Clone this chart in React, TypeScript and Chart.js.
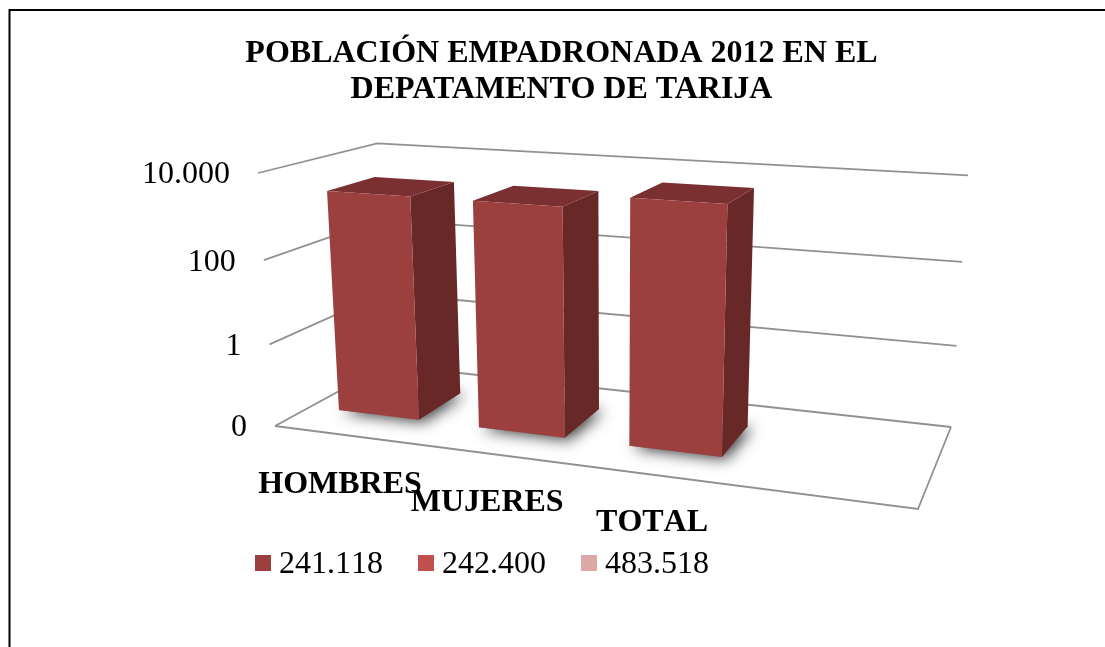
import React, { useEffect, useRef } from "react";
import { Chart, registerables } from "chart.js";

Chart.register(...registerables);

const TITLE_LINES = ["POBLACIÓN EMPADRONADA 2012 EN EL", "DEPATAMENTO DE TARIJA"];
const CATEGORIES = ["HOMBRES", "MUJERES", "TOTAL", ""];
const BAR_VALUES = [2500, 2500, 4900, null];
const LEGEND_LABELS = ["241.118", "242.400", "483.518"];
const LEGEND_COLORS = ["#9C403F", "#C0504D", "#DBA9A8"];
const TICK_VALUES = [0.01, 1, 100, 10000];

const FONT = "'Liberation Serif'";
const GRID = "#919191";
const FRONT = "#9C403F";
const SIDE = "#692828";
const TOP = "#7A3030";

// perspective box: floor corners front-left, front-right, back-right, back-left,
// plus the two roof corners that fix the vertical axis of the projection
type P = [number, number];
const FLOOR_QUAD: P[] = [[275, 426], [918, 509], [951, 427], [387, 365]];
const ROOF_FRONT_LEFT: P = [258, 173];
const ROOF_BACK_RIGHT_X = 968;
const DEPTH_FRONT = 0.29;
const DEPTH_BACK = 0.705;
const LABEL_NUDGE: P[] = [[-5, 50], [-6, 49], [-1, 48], [0, 0]];

function makeProjection(q: P[]) {
  const [[x0, y0], [x1, y1], [x2, y2], [x3, y3]] = q;
  const dx1 = x1 - x2, dx2 = x3 - x2, sx = x0 - x1 + x2 - x3;
  const dy1 = y1 - y2, dy2 = y3 - y2, sy = y0 - y1 + y2 - y3;
  const den = dx1 * dy2 - dx2 * dy1;
  const g = (sx * dy2 - dx2 * sy) / den;
  const h = (dx1 * sy - sx * dy1) / den;
  const a = x1 - x0 + g * x1, b = x3 - x0 + h * x3;
  const d = y1 - y0 + g * y1, e = y3 - y0 + h * y3;
  const k = 1 + g + h;
  const [rx, ry] = ROOF_FRONT_LEFT;
  const i = (x2 * k - x0 + rx - ROOF_BACK_RIGHT_X * k) / (ROOF_BACK_RIGHT_X - rx);
  const c = rx * (1 + i) - x0;
  const f = ry * (1 + i) - y0;
  return (u: number, v: number, w: number): P => {
    const z = g * u + h * v + i * w + 1;
    return [(a * u + b * v + c * w + x0) / z, (d * u + e * v + f * w + y0) / z];
  };
}
const project = makeProjection(FLOOR_QUAD);

function poly(ctx: CanvasRenderingContext2D, pts: P[], close = true) {
  ctx.beginPath();
  pts.forEach((p, i) => (i ? ctx.lineTo(p[0], p[1]) : ctx.moveTo(p[0], p[1])));
  if (close) ctx.closePath();
}

const scene3D = {
  id: "scene3D",
  beforeDatasetsDraw(chart: any) {
    const { ctx, chartArea: area, scales } = chart;
    const yScale = scales.y;
    const xScale = scales.x;
    const toW = (px: number) => (area.bottom - px) / area.height;
    const toU = (px: number) => (px - area.left) / area.width;

    ctx.save();
    (ctx as any).fontKerning = "none";
    // frame
    ctx.strokeStyle = "#000";
    ctx.lineWidth = 2;
    ctx.beginPath();
    ctx.moveTo(9.5, 647);
    ctx.lineTo(9.5, 10);
    ctx.lineTo(1105, 10);
    ctx.stroke();

    // walls and floor
    ctx.strokeStyle = GRID;
    ctx.lineWidth = 1.8;
    yScale.ticks.forEach((t: any) => {
      const w = toW(yScale.getPixelForValue(t.value));
      poly(ctx, [project(0, 0, w), project(0, 1, w), project(1, 1, w)], false);
      ctx.stroke();
    });
    poly(ctx, [project(0, 0, 0), project(1, 0, 0), project(1, 1, 0)], false);
    ctx.stroke();

    // tick labels
    ctx.fillStyle = "#000";
    ctx.font = `32px ${FONT}`;
    ctx.textAlign = "right";
    ctx.textBaseline = "middle";
    yScale.ticks.forEach((t: any) => {
      const w = toW(yScale.getPixelForValue(t.value));
      const [x, y] = project(0, 0, w);
      ctx.fillText(t.label, x - 28, y + 2);
    });

    // bars
    const meta = chart.getDatasetMeta(0);
    meta.data.forEach((el: any, i: number) => {
      if (BAR_VALUES[i] == null) return;
      const u0 = toU(el.x - el.width / 2);
      const u1 = toU(el.x + el.width / 2);
      const w = toW(el.y);
      const bfl = project(u0, DEPTH_FRONT, 0), bfr = project(u1, DEPTH_FRONT, 0);
      const bbr = project(u1, DEPTH_BACK, 0), bbl = project(u0, DEPTH_BACK, 0);
      const tfl = project(u0, DEPTH_FRONT, w), tfr = project(u1, DEPTH_FRONT, w);
      const tbr = project(u1, DEPTH_BACK, w), tbl = project(u0, DEPTH_BACK, w);

      ctx.save();
      ctx.shadowColor = "rgba(0,0,0,0.8)";
      ctx.shadowBlur = 15;
      ctx.shadowOffsetX = 4;
      ctx.shadowOffsetY = 2;
      ctx.fillStyle = "#777";
      poly(ctx, [bfl, bfr, bbr, bbl]);
      ctx.fill();
      ctx.restore();

      ctx.fillStyle = SIDE;
      poly(ctx, [tfr, tbr, bbr, bfr]);
      ctx.fill();
      ctx.fillStyle = TOP;
      poly(ctx, [tfl, tfr, tbr, tbl]);
      ctx.fill();
      ctx.fillStyle = FRONT;
      poly(ctx, [tfl, tfr, bfr, bfl]);
      ctx.fill();
    });

    // category labels
    ctx.fillStyle = "#000";
    ctx.font = `bold 32px ${FONT}`;
    ctx.textAlign = "center";
    ctx.textBaseline = "middle";
    xScale.ticks.forEach((t: any, i: number) => {
      const [x, y] = project(toU(xScale.getPixelForTick(i)), 0, 0);
      ctx.fillText(t.label, x + LABEL_NUDGE[i][0], y + LABEL_NUDGE[i][1]);
    });

    // legend
    ctx.font = `32px ${FONT}`;
    ctx.textAlign = "left";
    let lx = 255;
    chart.data.datasets.forEach((ds: any) => {
      ctx.fillStyle = ds.backgroundColor;
      ctx.fillRect(lx, 555, 16, 16);
      ctx.fillStyle = "#000";
      ctx.fillText(ds.label, lx + 24, 565);
      lx += 163;
    });
    ctx.restore();
    return false;
  },
};

export default function App() {
  const ref = useRef<HTMLCanvasElement>(null);
  useEffect(() => {
    const chart = new Chart(ref.current!, {
      type: "bar",
      data: {
        labels: CATEGORIES,
        datasets: LEGEND_LABELS.map((label, i) => ({
          label,
          data: i === 0 ? BAR_VALUES : [],
          backgroundColor: LEGEND_COLORS[i],
          barPercentage: 0.58,
          categoryPercentage: 1,
        })),
      },
      options: {
        responsive: false,
        animation: false,
        layout: { padding: { left: 18, right: 0, top: 0, bottom: 0 } },
        plugins: {
          legend: { display: false },
          tooltip: { enabled: false },
          title: {
            display: true,
            fullSize: false,
            text: TITLE_LINES,
            color: "#000",
            font: { family: FONT, size: 32, weight: "bold", lineHeight: 1.15 },
            padding: { top: 35, bottom: 8 },
          },
        },
        scales: {
          x: { display: false, stacked: true, ticks: { autoSkip: false } },
          y: {
            display: false,
            type: "logarithmic",
            min: 0.01,
            max: 10000,
            afterBuildTicks: (axis: any) => {
              axis.ticks = TICK_VALUES.map((value) => ({ value }));
            },
            ticks: {
              autoSkip: false,
              callback: (v: any) =>
                v < 1 ? "0" : String(v).replace(/\B(?=(\d{3})+$)/g, "."),
            },
          },
        },
      } as any,
      plugins: [scene3D],
    });
    return () => chart.destroy();
  }, []);
  return (
    <div style={{ position: "fixed", left: 0, top: 0, width: 1105, height: 647, background: "#fff" }}>
      <canvas ref={ref} width={1105} height={647} style={{ display: "block" }} />
    </div>
  );
}
